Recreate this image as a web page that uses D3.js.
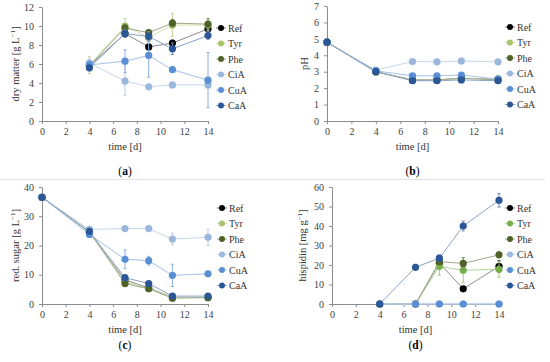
<!DOCTYPE html>
<html>
<head>
<meta charset="utf-8">
<script src="https://cdn.jsdelivr.net/npm/d3@7"></script>
<style>
  body { margin: 0; background: #fff; }
  svg { display: block; font-family: "Liberation Serif", "DejaVu Serif", serif; }
  svg text { font-family: "Liberation Serif", "DejaVu Serif", serif; }
</style>
</head>
<body>
<svg id="chart" width="550" height="362"></svg>
<script>
const seriesNames = ['Ref', 'Tyr', 'Phe', 'CiA', 'CuA', 'CaA'];

// (a) dry matter [g/L]
const dmDays = [4, 7, 9, 11, 14];
const dmValues = {
  Ref: [5.8, 9.2, 7.8, 8.2, 9.7],
  Tyr: [5.9, 10.0, 8.8, 10.1, 10.1],
  Phe: [5.8, 9.8, 9.3, 10.3, 10.2],
  CiA: [6.1, 4.2, 3.6, 3.8, 3.8],
  CuA: [5.9, 6.3, 6.9, 5.4, 4.3],
  CaA: [5.6, 9.2, 8.9, 7.6, 9.0]
};
const dmErrors = {
  Ref: [0.3, 0.3, 0.2, 0.3, 0.3],
  Tyr: [0.9, 0.8, 0.4, 1.2, 0.6],
  Phe: [0.4, 0.4, 0.3, 0.4, 0.6],
  CiA: [0.4, 1.5, 0.2, 0.2, 0.2],
  CuA: [0.4, 1.2, 2.3, 0.3, 2.9],
  CaA: [0.3, 0.4, 0.5, 0.6, 0.4]
};

// (b) pH
const phDays = [0, 4, 7, 9, 11, 14];
const phValues = {
  Ref: [4.8, 3.0, 2.5, 2.5, 2.6, 2.55],
  Tyr: [4.8, 3.0, 2.5, 2.5, 2.6, 2.55],
  Phe: [4.8, 3.0, 2.5, 2.5, 2.6, 2.5],
  CiA: [4.8, 3.1, 3.62, 3.6, 3.65, 3.6],
  CuA: [4.8, 3.05, 2.75, 2.75, 2.8, 2.55],
  CaA: [4.8, 3.0, 2.45, 2.45, 2.5, 2.45]
};

// (c) reduced sugar [g/L]
const rsDays = [0, 4, 7, 9, 11, 14];
const rsValues = {
  Ref: [36.5, 24.5, 8.2, 5.5, 2.3, 2.2],
  Tyr: [36.5, 24.6, 7.5, 5.3, 2.2, 2.2],
  Phe: [36.5, 24.7, 7.0, 5.2, 2.0, 2.2],
  CiA: [36.5, 25.5, 25.8, 25.8, 22.2, 22.8],
  CuA: [36.5, 23.8, 15.3, 14.8, 9.8, 10.3],
  CaA: [36.5, 24.8, 9.0, 7.0, 2.7, 2.7]
};
const rsErrors = {
  Ref: [0.5, 0.5, 0.5, 0.4, 0.3, 0.3],
  Tyr: [0.5, 0.5, 0.5, 0.4, 0.3, 0.3],
  Phe: [0.5, 0.5, 0.5, 0.4, 0.3, 0.3],
  CiA: [0.5, 0.6, 0.5, 0.5, 2.0, 2.8],
  CuA: [0.5, 1.0, 3.2, 1.5, 3.8, 0.8],
  CaA: [0.5, 0.8, 0.8, 0.6, 0.4, 0.4]
};

// (d) hispidin [mg/g]
const hiDays = [4, 7, 9, 11, 14];
const hiValues = {
  Ref: [0, 0, 21.0, 7.8, 19.3],
  Tyr: [0, 0, 19.3, 17.3, 17.8],
  Phe: [0, 0, 21.7, 20.8, 25.2],
  CiA: [0, 0, 0, 0, 0],
  CuA: [0, 0, 0, 0, 0],
  CaA: [0, 18.8, 23.5, 40.0, 53.2]
};
const hiErrors = {
  Ref: [0, 0, 1.0, 0.8, 3.0],
  Tyr: [0, 0, 4.5, 6.5, 4.0],
  Phe: [0, 0, 1.0, 3.0, 1.5],
  CiA: [0, 0, 0, 0, 0],
  CuA: [0, 0, 0, 0, 0],
  CaA: [0, 1.5, 1.5, 2.5, 3.5]
};

const colors = {
  Ref: '#000000',
  Tyr: '#a9c46c',
  Phe: '#4f6228',
  CiA: '#9bb7dc',
  CuA: '#5a8fd6',
  CaA: '#2c5797'
};

const FONT = '"Liberation Serif", "DejaVu Serif", serif';
const svg = d3.select('#chart');

// separator line between the two rows
svg.append('line')
  .attr('x1', 0).attr('x2', 545)
  .attr('y1', 179.5).attr('y2', 179.5)
  .attr('stroke', '#e2e2e2').attr('stroke-width', 1);

function lighter(c, t) {
  return d3.interpolateRgb(c, '#ffffff')(t);
}

function drawPanel(p) {
  const g = svg.append('g');
  const x = d3.scaleLinear().domain([0, 14]).range([p.left, p.right]);
  const y = d3.scaleLinear().domain([0, p.yMax]).range([p.bottom, p.top]);

  // axes
  const xAxis = g.append('g')
    .attr('transform', `translate(0,${p.bottom})`)
    .call(d3.axisBottom(x).tickValues(d3.range(0, 15, 2)).tickFormat(d3.format('d'))
      .tickSize(3).tickSizeOuter(0).tickPadding(4));
  const yAxis = g.append('g')
    .attr('transform', `translate(${p.left},0)`)
    .call(d3.axisLeft(y).tickValues(d3.range(0, p.yMax + 0.001, p.yStep)).tickFormat(d3.format('d'))
      .tickSize(3).tickSizeOuter(0).tickPadding(5));
  [xAxis, yAxis].forEach(a => {
    a.attr('font-family', FONT).attr('font-size', 10);
    a.select('.domain').attr('stroke', '#8c8c8c');
    a.selectAll('.tick line').attr('stroke', '#8c8c8c');
    a.selectAll('.tick text').attr('fill', '#404040');
  });

  const line = d3.line().x(d => x(d[0])).y(d => y(d[1]));

  seriesNames.forEach(name => {
    const vals = p.values[name];
    const pts = p.days.map((d, i) => [d, vals[i]]);
    const col = p.colors[name];
    const lineCol = lighter(col, name === 'Ref' ? 0.55 : 0.45);

    g.append('path')
      .datum(pts)
      .attr('fill', 'none')
      .attr('stroke', lineCol)
      .attr('stroke-width', 1)
      .attr('d', line);

    if (p.errors) {
      const errs = p.errors[name];
      pts.forEach((pt, i) => {
        const e = errs[i];
        if (!e) return;
        const cx = x(pt[0]);
        const eg = g.append('g').attr('stroke', lighter(col, 0.3)).attr('stroke-width', 1);
        eg.append('line').attr('x1', cx).attr('x2', cx).attr('y1', y(pt[1] - e)).attr('y2', y(pt[1] + e));
        eg.append('line').attr('x1', cx - 1.5).attr('x2', cx + 1.5).attr('y1', y(pt[1] - e)).attr('y2', y(pt[1] - e));
        eg.append('line').attr('x1', cx - 1.5).attr('x2', cx + 1.5).attr('y1', y(pt[1] + e)).attr('y2', y(pt[1] + e));
      });
    }

    g.selectAll(null)
      .data(pts)
      .enter()
      .append('circle')
      .attr('cx', d => x(d[0]))
      .attr('cy', d => y(d[1]))
      .attr('r', 3.6)
      .attr('fill', col);
  });

  // legend
  seriesNames.forEach((name, i) => {
    const ly = p.legendY + i * 15.5;
    const col = p.colors[name];
    g.append('line')
      .attr('x1', p.legendX - 5).attr('x2', p.legendX + 5)
      .attr('y1', ly).attr('y2', ly)
      .attr('stroke', lighter(col, 0.45)).attr('stroke-width', 1);
    g.append('circle').attr('cx', p.legendX).attr('cy', ly).attr('r', 3).attr('fill', col);
    g.append('text')
      .attr('x', p.legendX + 7).attr('y', ly + 3.5)
      .attr('fill', '#333')
      .style('font-size', '10px')
      .text(name);
  });

  // x label
  g.append('text')
    .attr('x', (p.left + p.right) / 2).attr('y', p.bottom + 29)
    .attr('text-anchor', 'middle')
    .attr('fill', '#333')
    .style('font-size', '10.5px')
    .text('time [d]');

  // y label
  const yl = g.append('text')
    .attr('transform', `translate(${p.yLabelX},${(p.top + p.bottom) / 2}) rotate(-90)`)
    .attr('text-anchor', 'middle')
    .attr('fill', '#333')
    .style('font-size', '10.5px');
  yl.append('tspan').text(p.yLabel);
  if (p.yUnit) {
    yl.append('tspan').text(' [' + p.yUnit);
    yl.append('tspan').attr('dy', -4).style('font-size', '7px').text('−1');
    yl.append('tspan').attr('dy', 4).text(']');
  }

  // panel letter
  const pl = g.append('text')
    .attr('x', (p.left + p.right) / 2).attr('y', p.letterY)
    .attr('text-anchor', 'middle')
    .attr('fill', '#000')
    .style('font-size', '11.5px');
  pl.append('tspan').text('(');
  pl.append('tspan').style('font-weight', 'bold').text(p.letter);
  pl.append('tspan').text(')');
}

drawPanel({
  left: 42, right: 208, top: 7, bottom: 121, yMax: 12, yStep: 2,
  days: dmDays, values: dmValues, errors: dmErrors, colors: colors,
  legendX: 221, legendY: 28, yLabel: 'dry matter', yUnit: 'g L', yLabelX: 19,
  letter: 'a', letterY: 175
});

drawPanel({
  left: 327, right: 498, top: 6, bottom: 121, yMax: 7, yStep: 1,
  days: phDays, values: phValues, errors: null, colors: colors,
  legendX: 510, legendY: 27, yLabel: 'pH', yUnit: null, yLabelX: 308,
  letter: 'b', letterY: 175
});

drawPanel({
  left: 42, right: 208, top: 187, bottom: 304, yMax: 40, yStep: 10,
  days: rsDays, values: rsValues, errors: rsErrors, colors: colors,
  legendX: 222, legendY: 208, yLabel: 'red. sugar', yUnit: 'g L', yLabelX: 19,
  letter: 'c', letterY: 349
});

drawPanel({
  left: 332, right: 499, top: 187, bottom: 304, yMax: 60, yStep: 10,
  days: hiDays, values: hiValues, errors: hiErrors,
  colors: Object.assign({}, colors, { Tyr: '#77b04a' }),
  legendX: 510, legendY: 208, yLabel: 'hispidin', yUnit: 'mg g', yLabelX: 306,
  letter: 'd', letterY: 349
});
</script>
</body>
</html>
